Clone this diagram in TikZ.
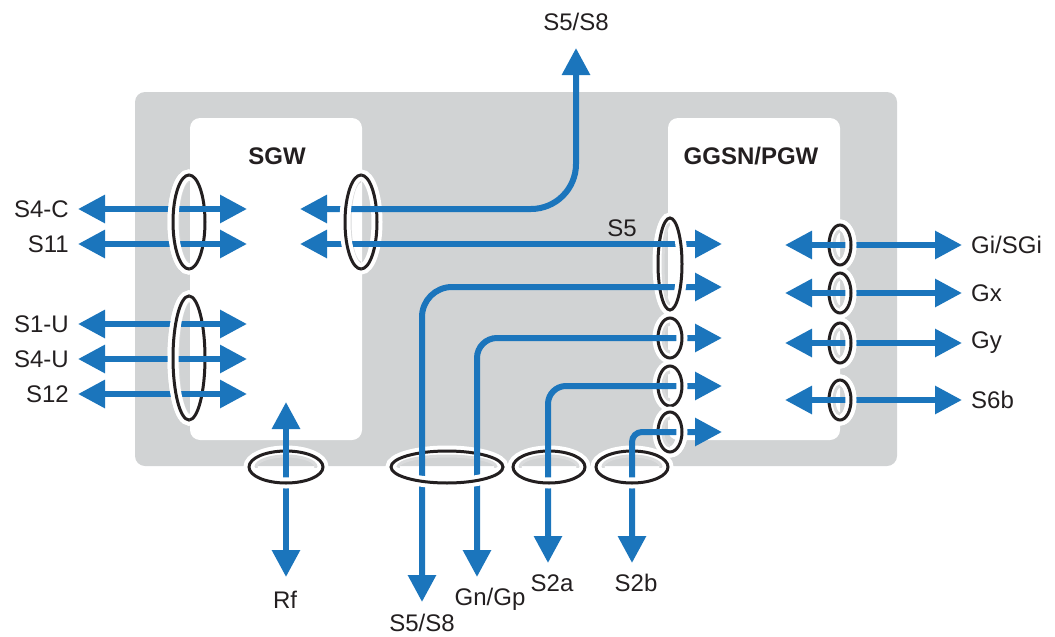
\documentclass[tikz,border=0pt]{standalone}
\usepackage{fontspec}
\setmainfont{Liberation Sans}
\usetikzlibrary{arrows.meta}
\definecolor{ablue}{HTML}{1B75BC}
\definecolor{bggray}{HTML}{D1D3D4}
\definecolor{ringblack}{HTML}{231F20}
\definecolor{txt}{HTML}{231F20}
\definecolor{shade}{HTML}{DADBDC}
\tikzset{
  link/.style={draw=ablue, line width=6pt},
  ringhalo/.style={draw=white, line width=11pt},
  ringline/.style={draw=ringblack, line width=3pt},
  ringshade/.style={draw=shade, line width=3pt},
  lbl/.style={inner sep=0pt, text=txt, font=\fontsize{24}{28}\selectfont},
  ttl/.style={inner sep=0pt, text=txt, font=\fontsize{24}{28}\selectfont\bfseries},
}
\newcommand\ringdraw[4]{%
  \draw[ringhalo] (#1,#2) ellipse[x radius=#3, y radius=#4];
  \draw[ringline] (#1,#2) ellipse[x radius=#3, y radius=#4];}
% inner shading on the left (vertical rings) or top (horizontal rings)
\newcommand\shadeL[4]{\begin{scope}\clip ({#1-#3},{#2-#4}) rectangle (#1,{#2+#4}); \draw[ringshade] (#1,#2) ellipse[x radius={#3-5}, y radius={#4-6}];\end{scope}}
\newcommand\shadeT[4]{\begin{scope}\clip ({#1-#3},{#2-#4}) rectangle ({#1+#3},#2); \draw[ringshade] (#1,#2) ellipse[x radius={#3-7}, y radius={#4-5}];\end{scope}}
\newcommand\ringL[4]{\begin{scope}\clip ({#1-#3-10},{#2-#4-10}) rectangle (#1,{#2+#4+10}); \ringdraw{#1}{#2}{#3}{#4}\end{scope}}
\newcommand\ringR[4]{\begin{scope}\clip (#1,{#2-#4-10}) rectangle ({#1+#3+10},{#2+#4+10}); \ringdraw{#1}{#2}{#3}{#4}\end{scope}}
\newcommand\ringB[4]{\begin{scope}\clip ({#1-#3-10},#2) rectangle ({#1+#3+10},{#2+#4+10}); \ringdraw{#1}{#2}{#3}{#4}\end{scope}}
\begin{document}
\begin{tikzpicture}[x=1pt, y=-1pt, >={Triangle[length=27pt,width=27pt]}]
\useasboundingbox (0,0) rectangle (1055,637);
% backgrounds
\fill[bggray, rounded corners=10pt] (135,92) rectangle (897,466);
\fill[white, rounded corners=10pt] (190,118) rectangle (362,440);
\fill[white, rounded corners=10pt] (668,118) rectangle (840,440);
\node[ttl] (sgw) at (277,156) {SGW};
\node[ttl] (pgw) at (751,156) {GGSN/PGW};

% rings (full, behind the links)
\ringdraw{189}{222}{16}{47}
\ringdraw{189}{358}{16}{62}
\ringdraw{361}{222}{16}{47}
\ringdraw{670}{264}{12}{46}
\ringdraw{670}{338}{12}{20}
\ringdraw{670}{386}{12}{20}
\ringdraw{670}{432}{12}{20}
\ringdraw{840}{245}{11}{20}
\ringdraw{840}{293}{11}{20}
\ringdraw{840}{343}{11}{20}
\ringdraw{840}{400}{11}{20}
\ringdraw{286}{467}{37}{16}
\ringdraw{447}{467}{56}{16}
\ringdraw{549}{467}{36}{16}
\ringdraw{632}{467}{36}{16}
\shadeL{189}{222}{16}{47}
\shadeL{189}{358}{16}{62}
\shadeL{361}{222}{16}{47}
\shadeL{670}{264}{12}{46}
\shadeL{670}{338}{12}{20}
\shadeL{670}{386}{12}{20}
\shadeL{670}{432}{12}{20}
\shadeL{840}{245}{11}{20}
\shadeL{840}{293}{11}{20}
\shadeL{840}{343}{11}{20}
\shadeL{840}{400}{11}{20}
\shadeT{286}{467}{37}{16}
\shadeT{447}{467}{56}{16}
\shadeT{549}{467}{36}{16}
\shadeT{632}{467}{36}{16}

% SGW left links
\coordinate (La1) at (78,209); \coordinate (La2) at (247,209);
\coordinate (Lb1) at (78,244); \coordinate (Lb2) at (247,244);
\coordinate (Lc1) at (78,324); \coordinate (Lc2) at (247,324);
\coordinate (Ld1) at (78,359); \coordinate (Ld2) at (247,359);
\coordinate (Le1) at (78,394); \coordinate (Le2) at (247,394);
\draw[link,<->] (La1) -- (La2);
\draw[link,<->] (Lb1) -- (Lb2);
\draw[link,<->] (Lc1) -- (Lc2);
\draw[link,<->] (Ld1) -- (Ld2);
\draw[link,<->] (Le1) -- (Le2);
\node[lbl, anchor=east] (s4c) at (69,209) {S4-C};
\node[lbl, anchor=east] (s11) at (69,244) {S11};
\node[lbl, anchor=east] (s1u) at (69,324) {S1-U};
\node[lbl, anchor=east] (s4u) at (69,359) {S4-U};
\node[lbl, anchor=east] (s12) at (69,394) {S12};

% SGW right links
\coordinate (Ta1) at (300,209); \coordinate (Ta2) at (576,48);
\draw[link,<->, rounded corners=45pt] (Ta1) -- (Ta1 -| Ta2) -- (Ta2);
\node[lbl] (s5s8top) at (576,22) {S5/S8};
\coordinate (Tb1) at (300,244); \coordinate (Tb2) at (722,244);
\draw[link,<->] (Tb1) -- (Tb2);
\node[lbl] (s5) at (622,228) {S5};

% GGSN incoming links from bottom
\coordinate (Ga1) at (722,287); \coordinate (Ga2) at (422,602);
\draw[link,<->, rounded corners=30pt] (Ga1) -- (Ga1 -| Ga2) -- (Ga2);
\coordinate (Gb1) at (722,338); \coordinate (Gb2) at (477,577);
\draw[link,<->, rounded corners=20pt] (Gb1) -- (Gb1 -| Gb2) -- (Gb2);
\coordinate (Gc1) at (722,386); \coordinate (Gc2) at (548,563);
\draw[link,<->, rounded corners=18pt] (Gc1) -- (Gc1 -| Gc2) -- (Gc2);
\coordinate (Gd1) at (722,432); \coordinate (Gd2) at (632,563);
\draw[link,<->, rounded corners=10pt] (Gd1) -- (Gd1 -| Gd2) -- (Gd2);
\node[lbl] (s5s8bot) at (422,623) {S5/S8};
\node[lbl] (gngp) at (490,599) {Gn/Gp};
\node[lbl] (s2a) at (552,583) {S2a};
\node[lbl] (s2b) at (636,583) {S2b};

% Rf
\coordinate (Rf1) at (286,402); \coordinate (Rf2) at (286,577);
\draw[link,<->] (Rf1) -- (Rf2);
\node[lbl] (rf) at (285,600) {Rf};

% GGSN right links
\coordinate (Ra1) at (785,245); \coordinate (Ra2) at (962,245);
\coordinate (Rb1) at (785,293); \coordinate (Rb2) at (962,293);
\coordinate (Rc1) at (785,343); \coordinate (Rc2) at (962,343);
\coordinate (Rd1) at (785,400); \coordinate (Rd2) at (962,400);
\draw[link,<->] (Ra1) -- (Ra2);
\draw[link,<->] (Rb1) -- (Rb2);
\draw[link,<->] (Rc1) -- (Rc2);
\draw[link,<->] (Rd1) -- (Rd2);
\node[lbl, anchor=west] (gi) at (971,245) {Gi/SGi};
\node[lbl, anchor=west] (gx) at (971,293) {Gx};
\node[lbl, anchor=west] (gy) at (971,343) {Gy};
\node[lbl, anchor=west] (s6b) at (971,400) {S6b};

% ring fronts (over the links)
\ringL{189}{222}{16}{47}
\ringL{189}{358}{16}{62}
\ringL{361}{222}{16}{47}
\ringR{670}{264}{12}{46}
\ringR{670}{338}{12}{20}
\ringR{670}{386}{12}{20}
\ringR{670}{432}{12}{20}
\ringR{840}{245}{11}{20}
\ringR{840}{293}{11}{20}
\ringR{840}{343}{11}{20}
\ringR{840}{400}{11}{20}
\ringB{286}{467}{37}{16}
\ringB{447}{467}{56}{16}
\ringB{549}{467}{36}{16}
\ringB{632}{467}{36}{16}
\end{tikzpicture}
\end{document}
